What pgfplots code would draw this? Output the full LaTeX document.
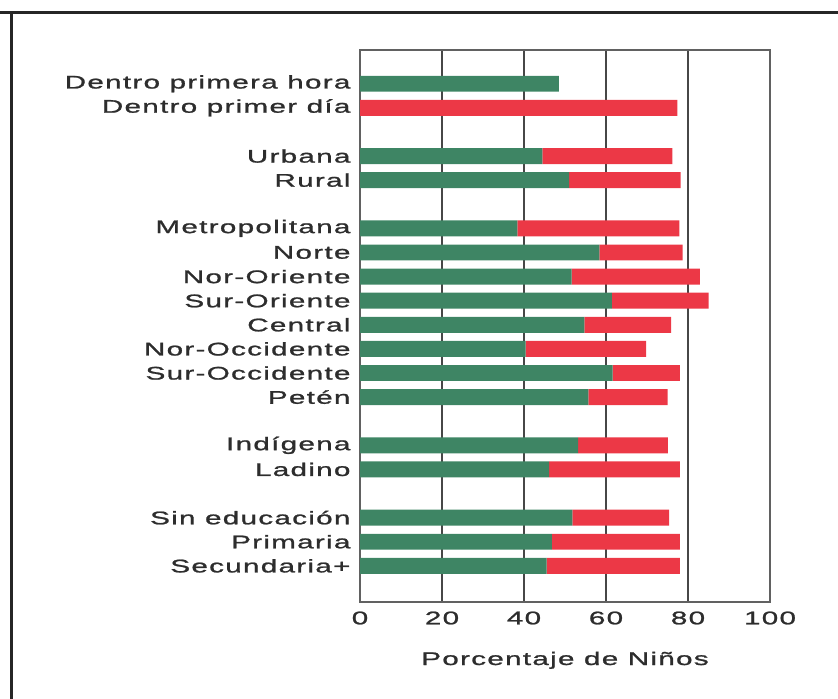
\documentclass[border=0pt]{standalone}
\usepackage{pgfplots}
\pgfplotsset{compat=1.18}
\usepackage{fontspec}
\setmainfont{Liberation Sans}[FakeStretch=1.62, LetterSpace=7, FakeBold=1.2]
\definecolor{barG}{RGB}{62,133,100}
\definecolor{barR}{RGB}{236,56,70}
\definecolor{txt}{RGB}{45,45,45}
\begin{document}
\begin{tikzpicture}[x=1bp,y=1bp]
\useasboundingbox (0,0) rectangle (838,-699);
\draw[line width=3bp, color=black!85] (0,-13) -- (838,-13);
\draw[line width=3bp, color=black!85] (11.5,-11.5) -- (11.5,-699);
\begin{axis}[
  at={(360bp,-602bp)}, anchor=south west,
  scale only axis, width=410bp, height=552bp,
  xbar stacked, bar width=0.66,
  xmin=0, xmax=100, ymin=-21.5, ymax=1.4,
  xtick={0,20,40,60,80,100},
  ytick={0,-1,-3,-4,-6,-7,-8,-9,-10,-11,-12,-13,-15,-16,-18,-19,-20},
  yticklabels={Dentro primera hora,Dentro primer día,Urbana,Rural,Metropolitana,Norte,Nor-Oriente,Sur-Oriente,Central,Nor-Occidente,Sur-Occidente,Petén,Indígena,Ladino,Sin educación,Primaria,Secundaria+},
  major tick length=0pt,
  xmajorgrids,
  grid style={line width=1.2bp, color=black!72},
  axis line style={line width=1.1bp, color=black!62},
  /pgf/number format/assume math mode=true,
  ticklabel style={font=\fontsize{18.3bp}{20bp}\selectfont, text=txt},
  xticklabel style={yshift=-6bp},
  yticklabel style={xshift=-6bp},
  xlabel={Porcentaje de Niños},
  xlabel style={font=\fontsize{18.3bp}{20bp}\selectfont, text=txt, at={(axis description cs:0.5,0)}, anchor=base, yshift=-63bp},
]
\addplot[fill=barG, draw=none] coordinates {
(48.5,0) (0,-1) (44.5,-3) (51.0,-4) (38.4,-6) (58.4,-7) (51.6,-8) (61.4,-9) (54.7,-10) (40.4,-11) (61.6,-12) (55.7,-13) (53.2,-15) (46.1,-16) (51.8,-18) (46.8,-19) (45.5,-20)
};
\addplot[fill=barR, draw=none] coordinates {
(0,0) (77.4,-1) (31.7,-3) (27.2,-4) (39.5,-6) (20.3,-7) (31.3,-8) (23.6,-9) (21.2,-10) (29.4,-11) (16.4,-12) (19.3,-13) (21.9,-15) (31.9,-16) (23.6,-18) (31.2,-19) (32.5,-20)
};
\end{axis}
\end{tikzpicture}
\end{document}
